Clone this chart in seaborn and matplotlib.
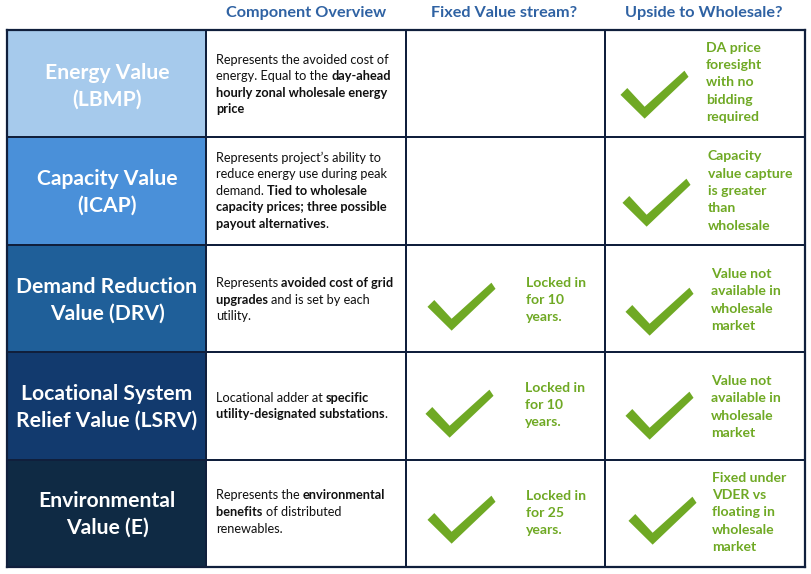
import matplotlib
matplotlib.use('Agg')
import matplotlib.pyplot as plt
from matplotlib.colors import ListedColormap
from matplotlib.path import Path
import numpy as np
import pandas as pd
import seaborn as sns

W, H = 811, 574

columns = ['Component Overview', 'Fixed Value stream?', 'Upside to Wholesale?']
components = ['Energy Value\n(LBMP)', 'Capacity Value\n(ICAP)', 'Demand Reduction\nValue (DRV)',
              'Locational System\nRelief Value (LSRV)', 'Environmental\nValue (E)']
component_colors = ['#A6CAEC', '#4A90D9', '#1F5F99', '#123A6E', '#0F2A44']

# each line is a list of (text, bold) runs
overview = [
    [[('Represents the avoided cost of', False)],
     [('energy. Equal to the ', False), ('day-ahead', True)],
     [('hourly zonal wholesale energy', True)],
     [('price', True)]],
    [[('Represents project\u2019s ability to', False)],
     [('reduce energy use during peak', False)],
     [('demand. ', False), ('Tied to wholesale', True)],
     [('capacity prices; three possible', True)],
     [('payout alternatives', True), ('.', False)]],
    [[('Represents ', False), ('avoided cost of grid', True)],
     [('upgrades ', True), ('and is set by each', False)],
     [('utility.', False)]],
    [[('Locational adder at ', False), ('specific', True)],
     [('utility-designated substations', True), ('.', False)]],
    [[('Represents the ', False), ('environmental', True)],
     [('benefits ', True), ('of distributed', False)],
     [('renewables.', False)]],
]
fixed_notes = ['', '', 'Locked in\nfor 10\nyears.', 'Locked in\nfor 10\nyears.', 'Locked in\nfor 25\nyears.']
upside_notes = ['DA price\nforesight\nwith no\nbidding\nrequired',
                'Capacity\nvalue capture\nis greater\nthan\nwholesale',
                'Value not\navailable in\nwholesale\nmarket',
                'Value not\navailable in\nwholesale\nmarket',
                'Fixed under\nVDER vs\nfloating in\nwholesale\nmarket']
fixed_checks = [False, False, True, True, True]
upside_checks = [True, True, True, True, True]

BLUE = '#2F62A3'
GREEN = '#6FA924'
LINE = '#101F3C'

plt.rcParams['font.family'] = ['Lato', 'DejaVu Sans']

fig = plt.figure(figsize=(W / 100, H / 100), dpi=100, facecolor='white')
ax = fig.add_axes([7 / W, 1 - 567 / H, 798 / W, 537 / H])

# grid of cells: index into the colour list, white for every non-component cell
cells = np.zeros((len(components), len(columns) + 1), dtype=int)
cells[:, 0] = np.arange(len(components)) + 1
cmap = ListedColormap(['white'] + component_colors)
sns.heatmap(cells, ax=ax, cmap=cmap, vmin=-0.5, vmax=len(components) + 0.5, cbar=False,
            linewidths=1.2, linecolor=LINE, xticklabels=False, yticklabels=False)
for spine in ax.spines.values():
    spine.set_visible(True)
    spine.set_color(LINE)
    spine.set_linewidth(1.6)

# check mark as a custom marker, one per flagged cell, nudged in pixels off the cell centre
check_marker = Path([(-1, -0.01), (-0.8, 0.19), (-0.29, -0.36), (0.88, 0.70), (1, 0.52), (-0.29, -0.71), (-1, -0.01)],
                    closed=True)
fixed_nudge = [None, None, (-45, 7.5), (-47, 7), (-45, 5.7)]
upside_nudge = [(-51, 10), (-49, 11), (-46, 12.5), (-46, 9), (-43, 6.7)]
cell_w, cell_h = 798 / 4, 537 / 5
check_rows = []
for col, flags, nudges in [(2, fixed_checks, fixed_nudge), (3, upside_checks, upside_nudge)]:
    for row, flag in enumerate(flags):
        if flag:
            check_rows.append((col + 0.5 + nudges[row][0] / cell_w, row + 0.5 + nudges[row][1] / cell_h))
checks = pd.DataFrame(check_rows, columns=['col', 'row'])
sns.scatterplot(data=checks, x='col', y='row', ax=ax, marker=check_marker, s=2400, color=GREEN,
                linewidth=0, legend=False, clip_on=False)
ax.set_xlim(0, 4)
ax.set_ylim(5, 0)
ax.set_xlabel('')
ax.set_ylabel('')


def ftext(x, y, s, **kw):
    return fig.text(x / W, 1 - y / H, s, **kw)


def draw_runs(x, y, runs, size):
    renderer = fig.canvas.get_renderer()
    for s, bold in runs:
        t = ftext(x, y, s.replace(' ', '\u00a0'), fontsize=size, color='#111111', va='center', ha='left',
                  fontweight='bold' if bold else 'normal')
        x = t.get_window_extent(renderer).x1


header_x = [306, 504, 704]
for x, label in zip(header_x, columns):
    ftext(x, 13, label, fontsize=11.7, fontweight='bold', color=BLUE, ha='center', va='center')

label_mid = [86, 192, 300, 407, 514]
for y, label in zip(label_mid, components):
    ftext(107, y, label, fontsize=15.2, fontweight='bold', color='white', ha='center', va='center', linespacing=1.4)

overview_mid = [85.5, 191.6, 300.5, 407, 513]
for y, lines in zip(overview_mid, overview):
    n = len(lines)
    for i, runs in enumerate(lines):
        draw_runs(216, y + (i - (n - 1) / 2) * 16.6 - 1, runs, 9.2)

fixed_pos = [None, None, (525.7, 300), (524.6, 405), (525.7, 513)]
for pos, note in zip(fixed_pos, fixed_notes):
    if pos:
        ftext(pos[0], pos[1], note, fontsize=10.1, fontweight='bold', color=GREEN, ha='left', va='center', linespacing=1.53)

upside_pos = [(706, 82.5), (707.5, 191), (711, 300), (711, 407), (712, 512.5)]
for pos, note in zip(upside_pos, upside_notes):
    ftext(pos[0], pos[1], note, fontsize=10.1, fontweight='bold', color=GREEN, ha='left', va='center', linespacing=1.53)

fig.savefig('out.png', dpi=100)
